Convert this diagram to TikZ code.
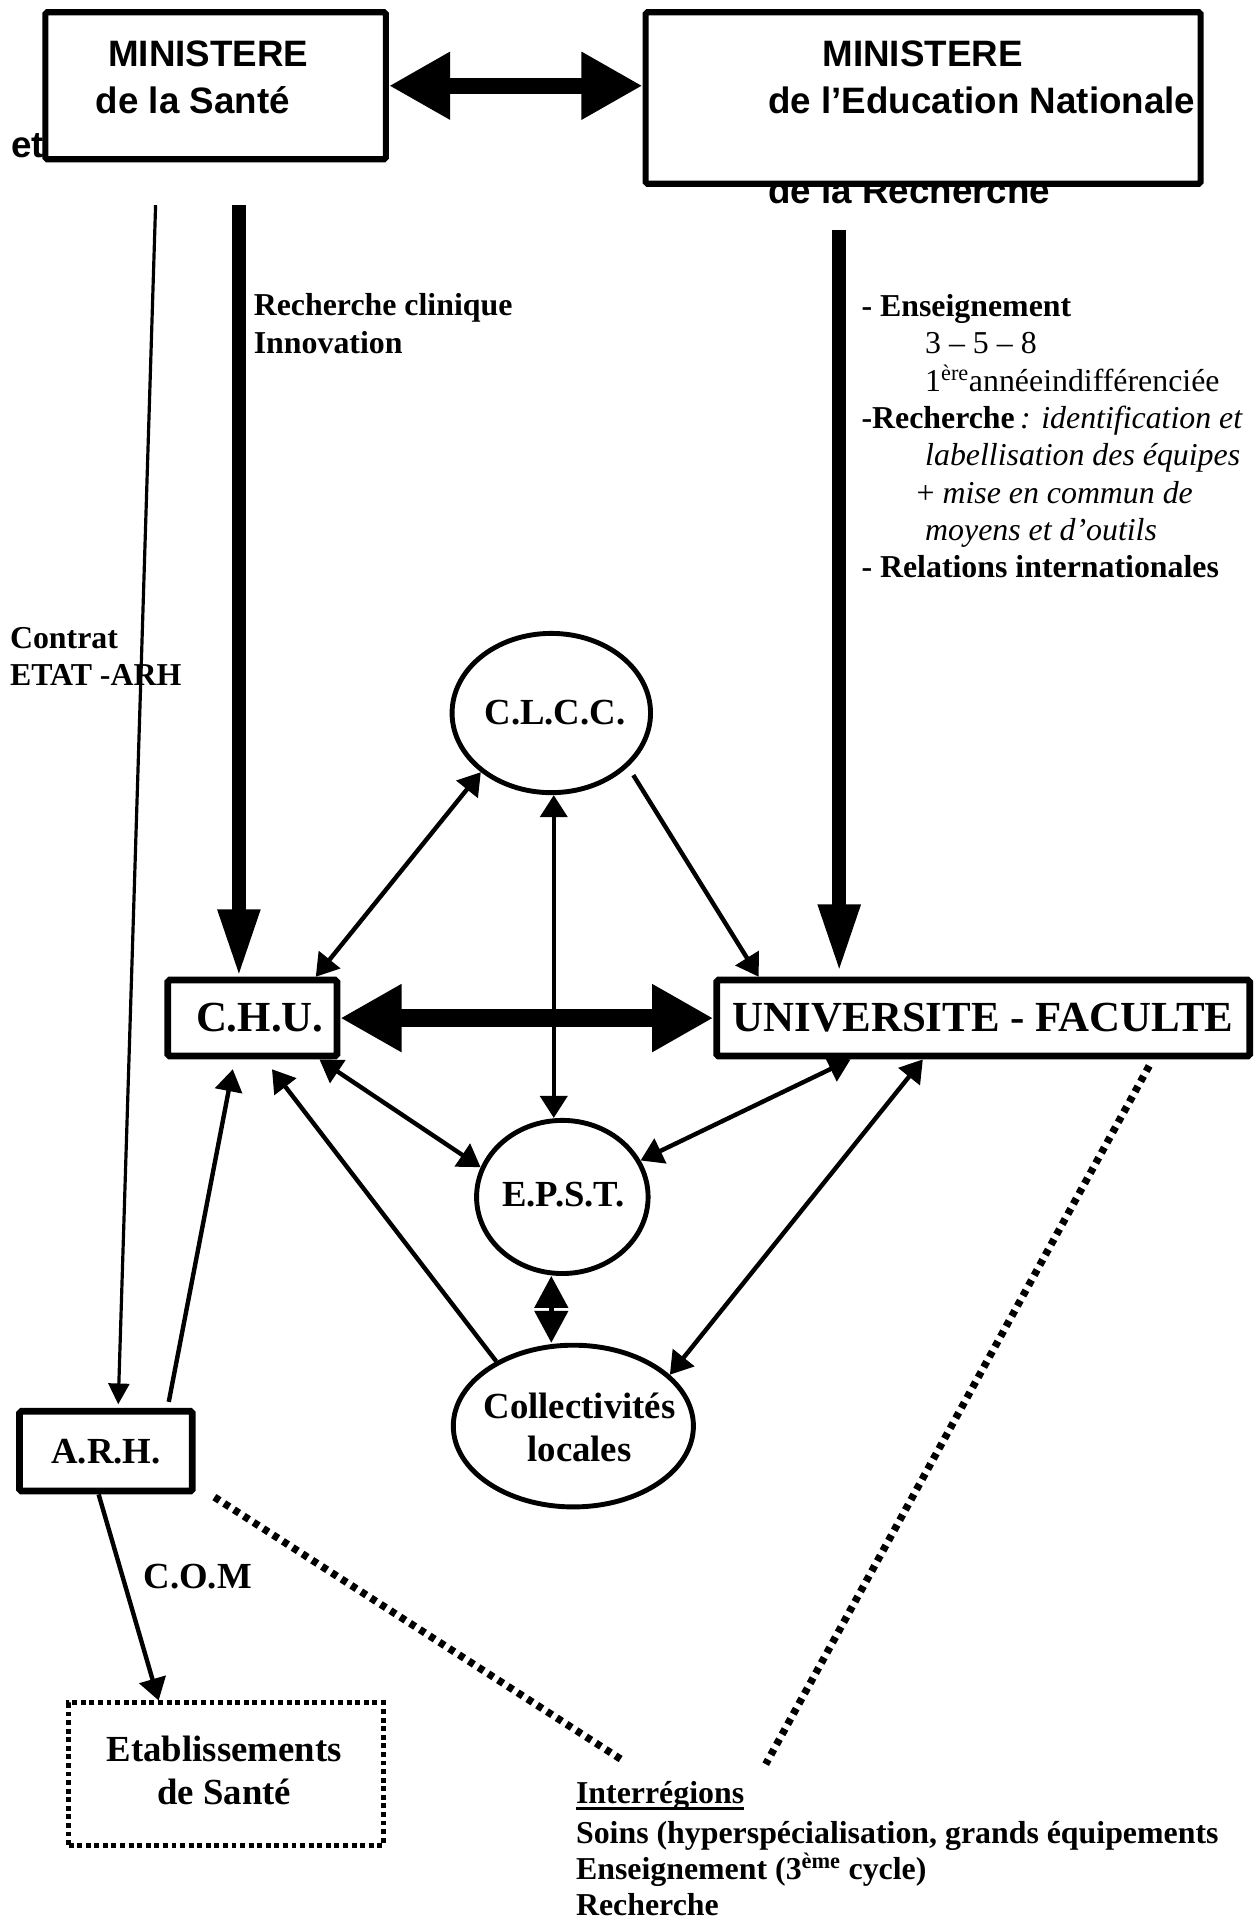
\documentclass[tikz,border=0pt]{standalone}
\usepackage{fontspec}
\setmainfont{Liberation Serif}
\setsansfont{Liberation Sans}
\usetikzlibrary{arrows.meta,shapes.geometric,calc}
\newcommand\ulthick[1]{\setbox0\hbox{#1}\rlap{\rule[-5pt]{\wd0}{2.6pt}}\box0}
\begin{document}
\begin{tikzpicture}[x=1pt,y=-1pt,
  box/.style={draw, line width=5.5pt, fill=white, rounded corners=1.5pt, inner sep=0pt},
  topbox/.style={draw, line width=5pt, fill=white, rounded corners=1.5pt, inner sep=0pt},
  oval/.style={draw, ellipse, line width=4pt, fill=white, inner sep=0pt},
  serifb/.style={inner sep=0pt, font=\fontsize{30}{35.5}\selectfont\bfseries},
  bigserif/.style={font=\fontsize{35}{40}\selectfont\bfseries},
  sansb/.style={inner sep=0pt, font=\fontsize{30}{36}\selectfont\sffamily\bfseries},
  lbl/.style={inner sep=0pt, align=left, font=\fontsize{26}{30.5}\selectfont},
  conn/.style={line width=3.6pt, -{Triangle[length=18pt,width=22pt]}},
  connboth/.style={line width=3.6pt, {Triangle[length=18pt,width=22pt]}-{Triangle[length=18pt,width=22pt]}},
  thinconn/.style={line width=2.6pt, -{Triangle[length=17pt,width=17pt]}},
  bigdown/.style={line width=11pt, -{Triangle[length=55pt,width=32pt]}},
  bigboth/.style={line width=#1, {Triangle[length=50pt,width=52pt]}-{Triangle[length=50pt,width=52pt]}},
  dotline/.style={line width=6pt, dash pattern=on 5pt off 4.5pt},
]
\useasboundingbox (0,0) rectangle (1028,1568);

% texts partly hidden behind the top boxes
\node[sansb, anchor=west] (et) at (9,119) {et};
\node[sansb, anchor=west] (rech) at (627,155) {de la Recherche};

% top boxes
\node[topbox, minimum width=278pt, minimum height=120pt] (sante) at (176,70) {};
\node[topbox, minimum width=453pt, minimum height=140pt] (edu) at (753.5,80) {};
\node[sansb] (m1) at (170,44) {MINISTERE};
\node[sansb, anchor=west] (m1b) at (78,82) {de la Santé};
\node[sansb] (m2) at (753,44) {MINISTERE};
\node[sansb, anchor=west] (m2b) at (627,82) {de l’Education Nationale};

% central nodes
\node[box, minimum width=138pt, minimum height=62pt, bigserif] (chu) at (206,831) {\hspace*{12pt}C.H.U.};
\node[box, minimum width=435pt, minimum height=62pt, bigserif] (univ) at (802.5,831) {UNIVERSITE - FACULTE};
\node[oval, minimum width=162pt, minimum height=130pt] (clcc) at (450,582) {};
\node[serifb] (clcct) at (453,582) {C.L.C.C.};
\node[oval, minimum width=140pt, minimum height=125pt] (epst) at (459,977) {};
\node[serifb] (epstt) at (460,975) {E.P.S.T.};
\node[oval, minimum width=196pt, minimum height=132pt] (coll) at (468,1164) {};
\node[serifb, align=center] (collt) at (473,1165) {Collectivités\\locales};
\node[box, minimum width=141pt, minimum height=65pt, serifb] (arh) at (86.5,1184.5) {A.R.H.};
\node[draw, line width=4pt, dash pattern=on 4pt off 3pt, minimum width=257pt, minimum height=116pt, inner sep=0pt] (etab) at (184.5,1448) {};
\node[serifb, align=center] (etabt) at (183,1445) {Etablissements\\de Santé};

% labels
\node[lbl, anchor=north west, font=\fontsize{26}{31}\selectfont\bfseries] (rc) at (207,239) {Recherche clinique\\Innovation};
\node[lbl, anchor=north west, font=\fontsize{26}{30}\selectfont\bfseries] (contrat) at (8,512) {Contrat\\ETAT -ARH};
\node[lbl, anchor=west, font=\fontsize{30}{34}\selectfont\bfseries] (com) at (117,1287) {C.O.M};
\node[lbl, anchor=north west] (ens) at (703,240) {\textbf{- Enseignement}\\
\hspace*{52pt}3 – 5 – 8\\
\hspace*{52pt}1\textsuperscript{ère}annéeindifférenciée\\
\textbf{-Recherche}\textit{\,: identification et}\\
\hspace*{52pt}\textit{labellisation des équipes}\\
\hspace*{45pt}+ \textit{mise en commun de}\\
\hspace*{52pt}\textit{moyens et d’outils}\\
\textbf{- Relations internationales}};
\node[lbl, anchor=north west, font=\fontsize{26}{29.5}\selectfont\bfseries] (inter) at (470,1454) {\ulthick{Interrégions}\\[3pt]
Soins (hyperspécialisation, grands équipements\\
Enseignement (3\textsuperscript{ème} cycle)\\
Recherche};

% free ends of the dotted lines
\coordinate (d1s) at (175,1222);
\coordinate (d1e) at (510,1438);
\coordinate (d2s) at (938,870);
\coordinate (d2e) at (625,1440);

% connectors
\draw[bigboth=13pt] (sante.east) -- (sante.east -| edu.west);
\draw[bigdown] ([xshift=19pt,yshift=-35pt]sante.south) -- ([xshift=-11pt]chu.north);
\draw[bigdown] ([xshift=-68.5pt,yshift=-35pt]edu.south) -- ([xshift=-117.5pt,yshift=4pt]univ.north);
\draw[thinconn] ([xshift=-49pt,yshift=-35pt]sante.south) -- ([xshift=10pt,yshift=3pt]arh.north);
\draw[connboth] (clcc.220) -- ([xshift=-20pt]chu.north east);
\draw[connboth] ([xshift=2pt]clcc.south) -- ([xshift=-7pt]epst.north);
\draw[conn, shorten <=8pt] (clcc.-35) -- ([xshift=37pt]univ.north west);
\draw[bigboth=15pt] (chu.east) -- (univ.west);
\draw[connboth] ([xshift=-17pt]chu.south east) -- (epst.160);
\draw[connboth] ([xshift=112pt]univ.south west) -- (epst.25);
\draw[connboth] ([xshift=171pt]univ.south west) -- (coll.28);
\draw[line width=3.6pt, {Triangle[length=26pt,width=27pt]}-{Triangle[length=26pt,width=27pt]}] ([xshift=-9pt]epst.south) -- ([xshift=-18pt]coll.north);
\draw[conn] (coll.140) -- ([xshift=16pt,yshift=-8pt]chu.south);
\draw[conn] ([xshift=-22pt,yshift=5pt]arh.north east) -- ([xshift=-16pt,yshift=-8pt]chu.south);
\draw[conn] ([xshift=-6pt]arh.south) -- ([xshift=-55pt]etab.north);
\draw[dotline] (d1s) -- (d1e);
\draw[dotline] (d2s) -- (d2e);
\end{tikzpicture}
\end{document}
